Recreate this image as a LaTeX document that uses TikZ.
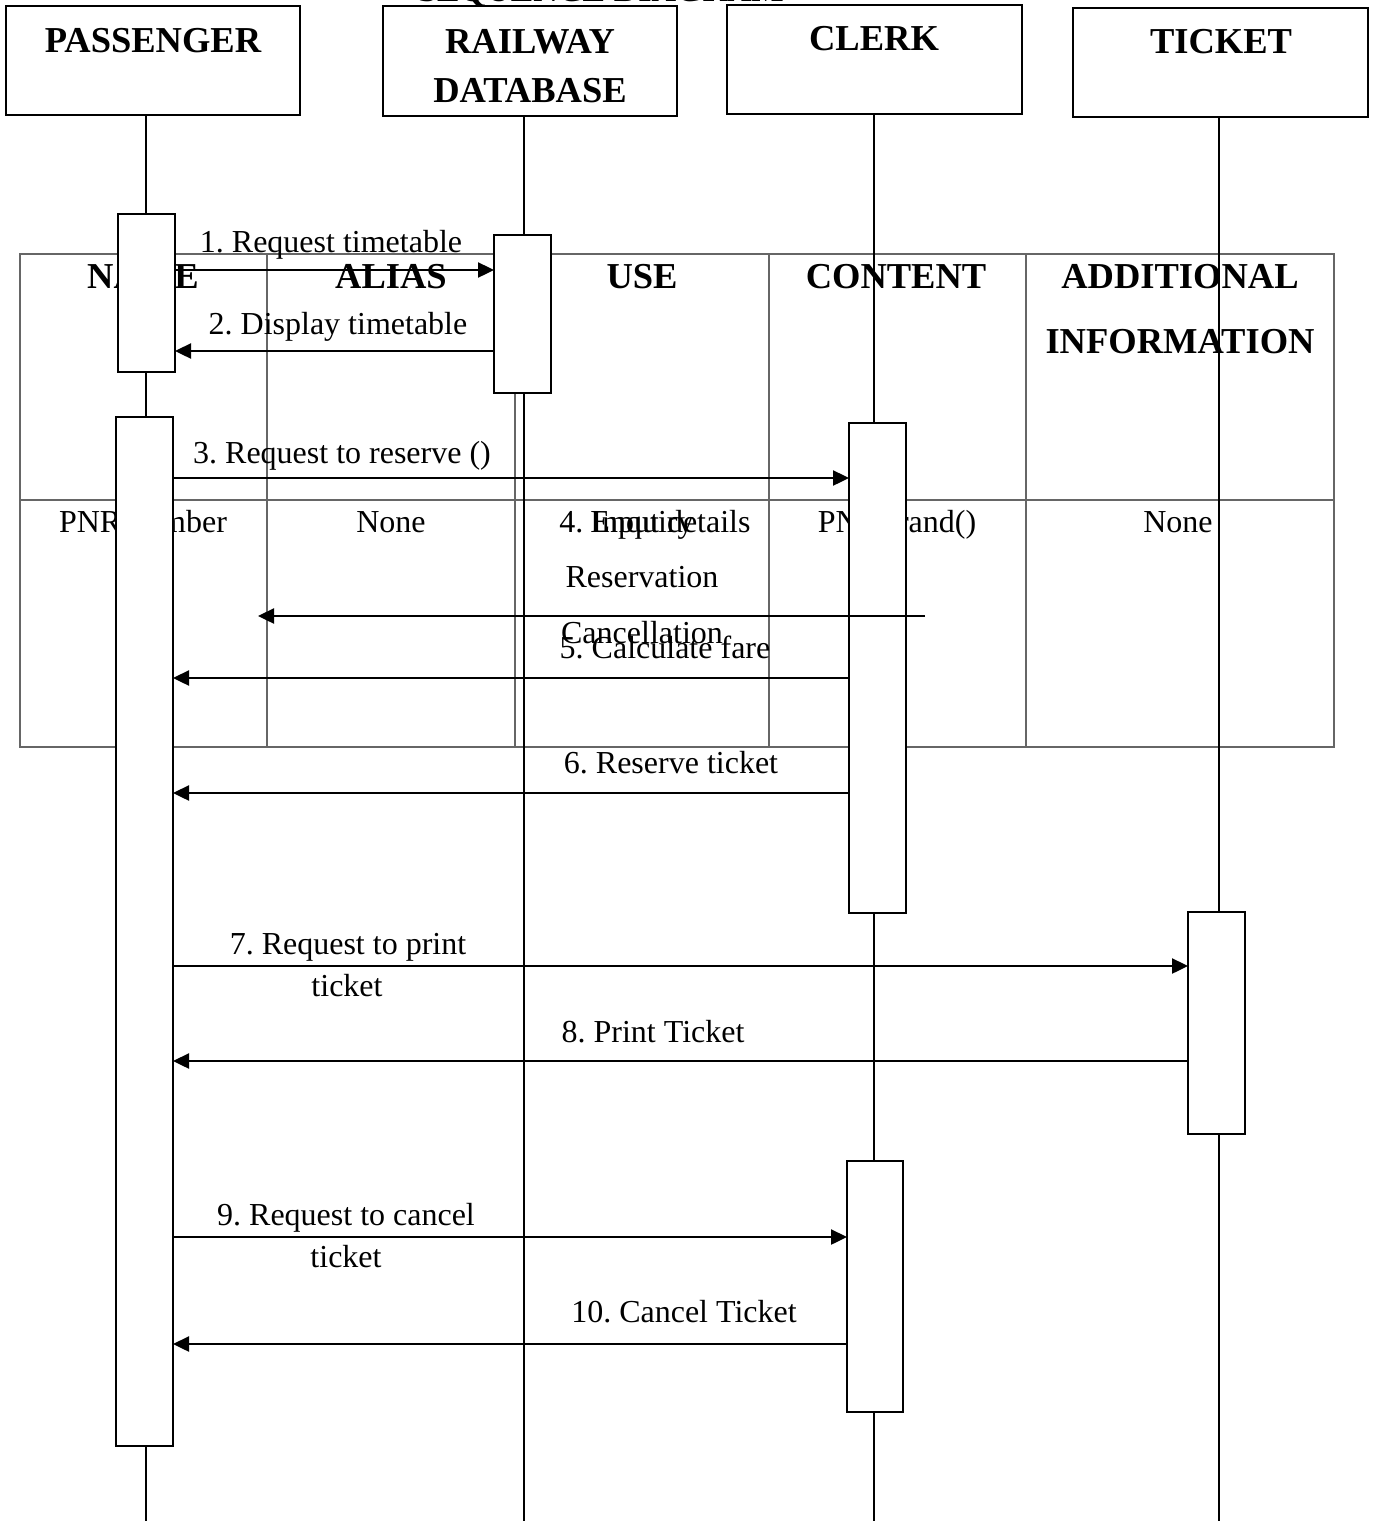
\documentclass[tikz,border=0pt]{standalone}
\usepackage{fontspec}
\setmainfont{Liberation Serif}
\usetikzlibrary{arrows.meta}
\frenchspacing
\begin{document}
\begin{tikzpicture}[x=1pt,y=-1pt,
  hbox/.style={draw, line width=1.8pt, inner sep=0pt, outer sep=0pt},
  act/.style={draw, fill=white, line width=1.6pt, inner sep=0pt, outer sep=0pt, minimum width=57pt},
  life/.style={line width=2pt},
  tbl/.style={draw=black!60, line width=1.3pt},
  msg/.style={line width=2.4pt, -{Triangle[length=16pt,width=15pt]}},
  hd/.style={font=\fontsize{36.5}{40}\selectfont\bfseries, anchor=base, inner sep=0pt},
  txt/.style={font=\fontsize{32}{36}\selectfont, anchor=base, inner sep=0pt}
]
\useasboundingbox (0,0) rectangle (1377,1521);

% title (cut off at the top)
\node[hd, font=\fontsize{34}{38}\selectfont\bfseries] (title) at (601,1.5) {SEQUENCE DIAGRAM};

% header boxes
\node[hbox, minimum width=294pt, minimum height=109pt] (pbox) at (153,60.5) {};
\node[hbox, minimum width=294pt, minimum height=110pt] (dbox) at (530,61) {};
\node[hbox, minimum width=295pt, minimum height=109pt] (cbox) at (874.5,59.5) {};
\node[hbox, minimum width=295pt, minimum height=109pt] (tbox) at (1220.5,62.5) {};
\node[hd] (ptxt) at (153,52) {PASSENGER};
\node[hd] (dtxt1) at (530,53) {RAILWAY};
\node[hd] (dtxt2) at (530,102) {DATABASE};
\node[hd] (ctxt) at (874,50) {CLERK};
\node[hd] (ttxt) at (1221,53) {TICKET};

% table
\draw[tbl] (20,254) rectangle (1334,747);
\draw[tbl] (20,500) -- (1334,500);
\foreach \cx in {267,515,769,1026} \draw[tbl] (\cx,254) -- (\cx,747);
\node[hd] (h1) at (143,288) {NAME};
\node[hd] (h2) at (391,288) {ALIAS};
\node[hd] (h3) at (642,288) {USE};
\node[hd] (h4) at (896,288) {CONTENT};
\node[hd] (h5a) at (1180,288) {ADDITIONAL};
\node[hd] (h5b) at (1180,353) {INFORMATION};
\node[txt] (b1) at (143,532) {PNR number};
\node[txt] (b2) at (391,532) {None};
\node[txt] (b3a) at (642,532) {Enquiry};
\node[txt] (b3b) at (642,587) {Reservation};
\node[txt] (b3c) at (642,643) {Cancellation};
\node[txt] (b4) at (897,532) {PNR=rand()};
\node[txt] (b5) at (1178,532) {None};

% lifelines
\coordinate (pend) at (146,1521);
\coordinate (dend) at (524,1521);
\coordinate (cend) at (874,1521);
\coordinate (tend) at (1219,1521);
\draw[life] (pbox.south -| pend) -- (pend);
\draw[life] (dbox.south -| dend) -- (dend);
\draw[life] (cbox.south -| cend) -- (cend);
\draw[life] (tbox.south -| tend) -- (tend);

% activation boxes
\node[act, minimum height=158pt] (a1) at (146.5,293) {};
\node[act, minimum height=158pt] (d1) at (522.5,314) {};
\node[act, minimum height=1029pt] (a2) at (144.5,931.5) {};
\node[act, minimum height=490pt] (c1) at (877.5,668) {};
\node[act, minimum height=222pt] (t1) at (1216.5,1023) {};
\node[act, minimum height=251pt, minimum width=56pt] (c2) at (875,1286.5) {};

% message levels
\coordinate (m1) at (0,270);
\coordinate (m2) at (0,351);
\coordinate (m3) at (0,478);
\coordinate (s4) at (925,616);
\coordinate (e4) at (258,616);
\coordinate (m5) at (0,678);
\coordinate (m6) at (0,793);
\coordinate (m7) at (0,966);
\coordinate (m8) at (0,1061);
\coordinate (m9) at (0,1237);
\coordinate (m10) at (0,1344);

\draw[msg] (a1.east |- m1) -- (d1.west |- m1);
\draw[msg] (d1.west |- m2) -- (a1.east |- m2);
\draw[msg] (a2.east |- m3) -- (c1.west |- m3);
\draw[msg] (s4) -- (e4);
\draw[msg] (c1.west |- m5) -- (a2.east |- m5);
\draw[msg] (c1.west |- m6) -- (a2.east |- m6);
\draw[msg] (a2.east |- m7) -- (t1.west |- m7);
\draw[msg] (t1.west |- m8) -- (a2.east |- m8);
\draw[msg] (a2.east |- m9) -- (c2.west |- m9);
\draw[msg] (c2.west |- m10) -- (a2.east |- m10);

% message labels
\node[txt] (l1) at (331,252) {1. Request timetable};
\node[txt] (l2) at (338,334) {2. Display timetable};
\node[txt] (l3) at (342,463) {3. Request to reserve ()};
\node[txt] (l4) at (655,532) {4. Input details};
\node[txt] (l5) at (665,658) {5. Calculate fare};
\node[txt] (l6) at (671,773) {6. Reserve ticket};
\node[txt] (l7a) at (348,954) {7. Request to print};
\node[txt] (l7b) at (347,996) {ticket};
\node[txt] (l8) at (653,1042) {8. Print Ticket};
\node[txt] (l9a) at (346,1225) {9. Request to cancel};
\node[txt] (l9b) at (346,1267) {ticket};
\node[txt] (l10) at (684,1322) {10. Cancel Ticket};
\end{tikzpicture}
\end{document}
